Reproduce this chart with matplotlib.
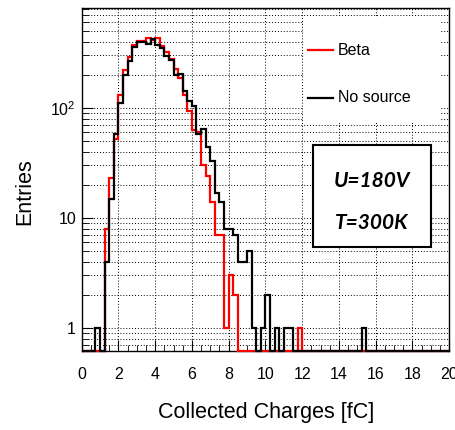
import numpy as np
import matplotlib.pyplot as plt
from matplotlib.lines import Line2D
from matplotlib.patches import Rectangle
from matplotlib.ticker import FixedLocator, MultipleLocator, NullFormatter

plt.rcParams['font.family'] = ['Liberation Sans', 'DejaVu Sans']
plt.rcParams['mathtext.fontset'] = 'custom'
plt.rcParams['mathtext.rm'] = 'Liberation Sans'
plt.rcParams['mathtext.it'] = 'Liberation Sans:italic'
plt.rcParams['mathtext.bf'] = 'Liberation Sans:bold'

# histogram: 80 bins of 0.25 fC between 0 and 20 fC
x_min, x_max, n_bins = 0, 20, 80

beta = [0, 0, 0, 0, 0, 8, 23, 52, 131, 221,
        292, 370, 405, 405, 430, 415, 432, 366, 325, 277,
        225, 186, 131, 94, 63, 60, 30, 24, 14, 7,
        7, 1, 3, 2, 0, 0, 0, 0, 0, 0,
        0, 0, 0, 0, 0, 0, 0, 1, 0, 0,
        0, 0, 0, 0, 0, 0, 0, 0, 0, 0,
        0, 0, 0, 0, 0, 0, 0, 0, 0, 0,
        0, 0, 0, 0, 0, 0, 0, 0, 0, 0]

no_source = [0, 0, 0, 1, 0, 4, 15, 58, 110, 200,
             268, 360, 395, 400, 385, 420, 375, 350, 297, 270,
             200, 205, 143, 116, 105, 58, 64, 44, 33, 17,
             14, 8, 8, 7, 4, 4, 5, 1, 0, 1,
             2, 0, 1, 0, 1, 1, 0, 0, 0, 0,
             0, 0, 0, 0, 0, 0, 0, 0, 0, 0,
             0, 1, 0, 0, 0, 0, 0, 0, 0, 0,
             0, 0, 0, 0, 0, 0, 0, 0, 0, 0]

y_min, y_max = 0.62, 810

edges = np.linspace(x_min, x_max, n_bins + 1)

fig = plt.figure(figsize=(4.56, 4.30), dpi=100)
ax = fig.add_axes([0.179, 0.1844, 0.806, 0.797])

# empty bins are drawn on the lower edge, like ROOT does
for counts, col in [(beta, 'red'), (no_source, 'black')]:
    vals = np.maximum(np.array(counts, dtype=float), y_min)
    ax.stairs(vals, edges, baseline=None, color=col, lw=1.6,
              clip_on=False, zorder=3)

ax.set_yscale('log')
ax.set_xlim(x_min, x_max)
ax.set_ylim(y_min, y_max)

ax.xaxis.set_major_locator(MultipleLocator(2))
ax.xaxis.set_minor_locator(MultipleLocator(0.5))
ax.yaxis.set_major_locator(FixedLocator([1, 10, 100]))
ax.yaxis.set_minor_locator(FixedLocator([k * 10.0 ** e for e in (-1, 0, 1, 2) for k in range(2, 10)]))
ax.yaxis.set_minor_formatter(NullFormatter())
ax.set_yticklabels(['1', '10', '$10^{2}$'])

ax.tick_params(which='both', direction='in', top=False, right=False, labelsize=11.5)
ax.tick_params(axis='x', which='major', length=8, pad=12)
ax.tick_params(axis='x', which='minor', length=4)
ax.tick_params(axis='y', which='major', length=8, pad=4)
ax.tick_params(axis='y', which='minor', length=5)

ax.set_axisbelow(True)
ax.grid(axis='x', which='major', color='black', ls=(0, (1, 2)), lw=0.7)
ax.grid(axis='y', which='both', color='black', ls=(0, (1, 2)), lw=0.7)
for s in ax.spines.values():
    s.set_linewidth(1.0)

ax.set_xlabel('Collected Charges [fC]', fontsize=15.5, va='center')
ax.xaxis.set_label_coords(0.5015, -0.18)
ax.set_ylabel('Entries', fontsize=15.5, va='center')
ax.yaxis.set_label_coords(-0.155, 0.463)

# legend without frame, white background
ax.add_patch(Rectangle((0.6025, 0.6645), 0.373, 0.305, transform=ax.transAxes,
                       facecolor='white', edgecolor='none', zorder=2))
for yy, col, lab in [(0.876, 'red', 'Beta'), (0.7385, 'black', 'No source')]:
    ax.add_line(Line2D([0.617, 0.683], [yy, yy], transform=ax.transAxes,
                       color=col, lw=1.6, zorder=3))
    ax.text(0.698, yy, lab, transform=ax.transAxes, fontsize=11.5,
            va='center', ha='left', zorder=3)

# box with the run conditions
ax.add_patch(Rectangle((0.629, 0.3017), 0.321, 0.2985, transform=ax.transAxes,
                       facecolor='white', edgecolor='black', lw=1.5, zorder=4))
ax.text(0.7895, 0.496, 'U=180V', transform=ax.transAxes, fontsize=15,
        family='Lato', weight='bold', style='italic', ha='center', va='center', zorder=5)
ax.text(0.7895, 0.3726, 'T=300K', transform=ax.transAxes, fontsize=15,
        family='Lato', weight='bold', style='italic', ha='center', va='center', zorder=5)

fig.savefig('out.png', dpi=100)
